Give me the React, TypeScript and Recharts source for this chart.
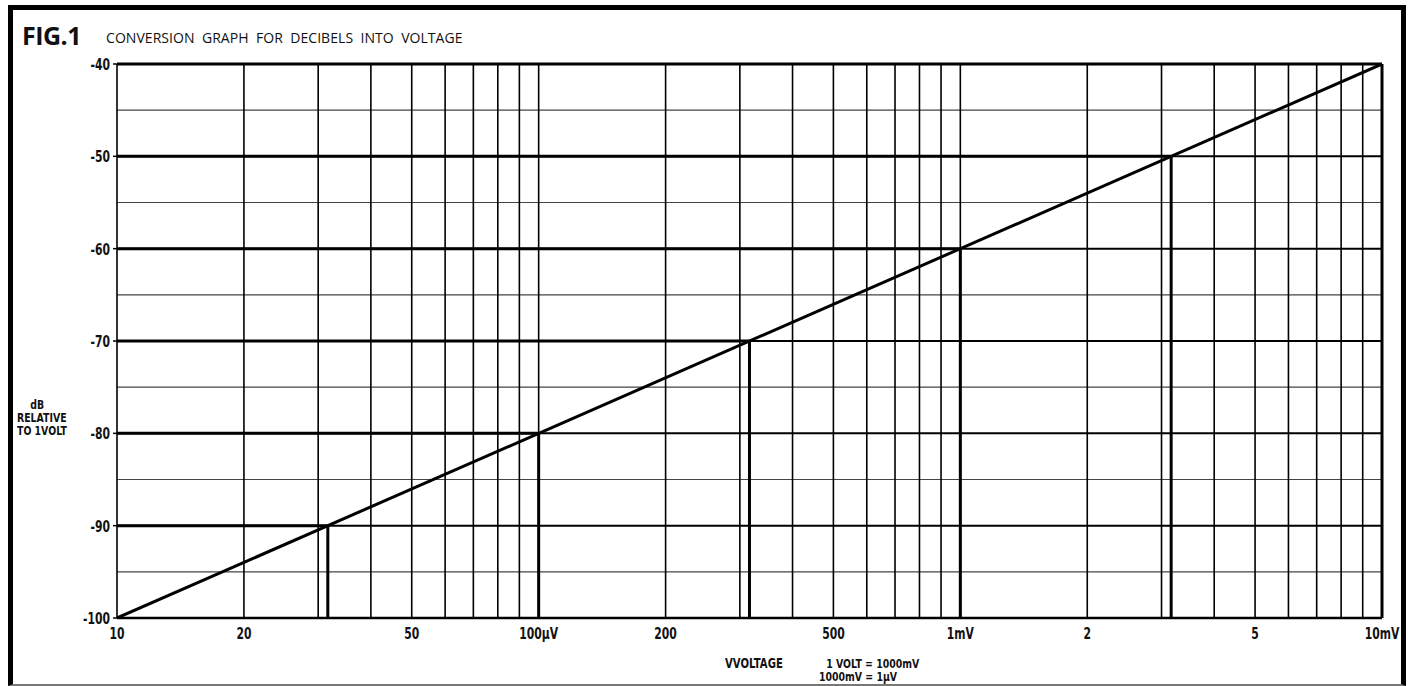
import { ComposedChart, Line, ReferenceLine, XAxis, YAxis } from "recharts"

// microvolts on x, dB relative to 1 volt on y
const lineVolts = [10, 10000]
const lineDb = [-100, -40]

const xTicks = [10, 20, 50, 100, 200, 500, 1000, 2000, 5000, 10000]
const xTickLabels = ["10", "20", "50", "100µV", "200", "500", "1mV", "2", "5", "10mV"]

const yTicks = [-40, -50, -60, -70, -80, -90, -100]
const majorDb = [-50, -60, -70, -80, -90]
const minorDb = [-45, -55, -65, -75, -85, -95]

const gridVolts = [
  20, 30, 40, 50, 60, 70, 80, 90, 100,
  200, 300, 400, 500, 600, 700, 800, 900, 1000,
  2000, 3000, 4000, 5000, 6000, 7000, 8000, 9000,
]

const dropVolts = [31.62, 100, 316.2, 1000, 3162]
const dropDb = [-90, -80, -70, -60, -50]

const lineData = lineVolts.map((v, i) => ({ v, db: lineDb[i] }))

const tickFont = "'DejaVu Sans', sans-serif"
const SQUEEZE = 0.72

function XTick({ x, y, payload }: any) {
  const i = xTicks.indexOf(payload.value)
  return (
    <text
      transform={`translate(${x},${y + 13}) scale(${SQUEEZE},1)`}
      textAnchor="middle"
      fontFamily={tickFont}
      fontWeight="bold"
      fontSize={15}
      fill="#111"
    >
      {xTickLabels[i]}
    </text>
  )
}

function YTick({ x, y, payload }: any) {
  return (
    <text
      transform={`translate(${x - 1},${y + 6}) scale(${SQUEEZE},1)`}
      textAnchor="end"
      fontFamily={tickFont}
      fontWeight="bold"
      fontSize={15}
      fill="#111"
    >
      {payload.value}
    </text>
  )
}

function Narrow({ left, top, size, align, children }: any) {
  return (
    <div
      style={{
        position: "absolute",
        left,
        top,
        fontFamily: tickFont,
        fontWeight: 700,
        fontSize: size,
        lineHeight: `${size}px`,
        color: "#111",
        whiteSpace: "nowrap",
        textAlign: align ?? "left",
        transform: `scaleX(${SQUEEZE})`,
        transformOrigin: "left top",
      }}
    >
      {children}
    </div>
  )
}

export default function App() {
  return (
    <div style={{ background: "#fff" }}>
      <div style={{ position: "absolute", left: 8, top: 8 }}>
        <ComposedChart width={1400} height={676} data={lineData} margin={{ top: 56, right: 26, bottom: 36, left: 49 }}>
          <XAxis
            dataKey="v"
            type="number"
            scale="log"
            domain={[10, 10000]}
            ticks={xTicks}
            tick={<XTick />}
            axisLine={false}
            tickLine={false}
            height={30}
            interval={0}
            allowDataOverflow
          />
          <YAxis
            type="number"
            domain={[-100, -40]}
            ticks={yTicks}
            width={60}
            interval={0}
            axisLine={false}
            tickSize={4}
            tickLine={{ stroke: "#000", strokeWidth: 1.5 }}
            tick={<YTick />}
            allowDataOverflow
          />
          {minorDb.map((d) => (
            <ReferenceLine key={"mi" + d} y={d} stroke="#444" strokeWidth={1.2} />
          ))}
          {gridVolts.map((v) => (
            <ReferenceLine key={"gv" + v} x={v} stroke="#000" strokeWidth={1.6} />
          ))}
          {majorDb.map((d) => (
            <ReferenceLine key={"ma" + d} y={d} stroke="#000" strokeWidth={2} />
          ))}
          <ReferenceLine x={10} stroke="#000" strokeWidth={1.6} />
          <ReferenceLine x={10000} stroke="#000" strokeWidth={3} />
          <ReferenceLine y={-40} stroke="#000" strokeWidth={3} />
          <ReferenceLine y={-100} stroke="#000" strokeWidth={2.5} />
          {dropVolts.map((v, i) => (
            <ReferenceLine
              key={"dh" + v}
              segment={[
                { x: 10, y: dropDb[i] },
                { x: v, y: dropDb[i] },
              ]}
              stroke="#000"
              strokeWidth={3}
            />
          ))}
          {dropVolts.map((v, i) => (
            <ReferenceLine
              key={"dv" + v}
              segment={[
                { x: v, y: -100 },
                { x: v, y: dropDb[i] },
              ]}
              stroke="#000"
              strokeWidth={3}
            />
          ))}
          <Line
            dataKey="db"
            stroke="#000"
            strokeWidth={3}
            dot={false}
            isAnimationActive={false}
            type="linear"
          />
        </ComposedChart>
      </div>
      <div
        style={{
          position: "absolute",
          left: 8,
          top: 5,
          width: 1388,
          height: 674,
          borderLeft: "5px solid #000",
          borderTop: "5px solid #000",
          borderRight: "5px solid #000",
          borderBottom: "2px solid #777",
          pointerEvents: "none",
        }}
      />
      <div
        style={{
          position: "absolute",
          left: 22,
          top: 18,
          fontFamily: "'Open Sans', sans-serif",
          color: "#111",
          whiteSpace: "nowrap",
        }}
      >
        <span style={{ fontWeight: 700, fontSize: 25, letterSpacing: -0.5 }}>FIG.1</span>
        <span style={{ fontSize: 14, marginLeft: 25, letterSpacing: 0.05, position: "relative", top: -2 }}>
          CONVERSION&nbsp; GRAPH&nbsp; FOR&nbsp; DECIBELS&nbsp; INTO&nbsp; VOLTAGE
        </span>
      </div>
      <Narrow left={17} top={398} size={13} align="center">
        <div style={{ width: 56 }}>
          dB
          <br />
          RELATIVE
          <br />
          TO 1VOLT
        </div>
      </Narrow>
      <Narrow left={725} top={656} size={14}>
        VVOLTAGE
      </Narrow>
      <Narrow left={819} top={657} size={13}>
        <div style={{ paddingLeft: 10 }}>1 VOLT = 1000mV</div>
        <div>1000mV = 1µV</div>
      </Narrow>
    </div>
  )
}
